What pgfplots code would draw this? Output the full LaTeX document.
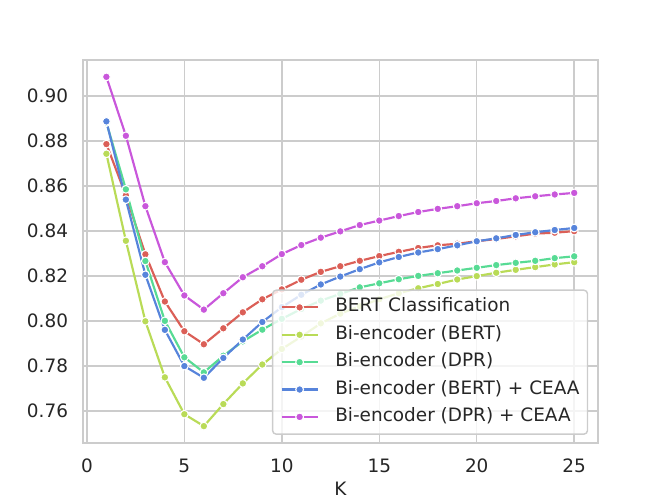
\documentclass[border=0pt]{standalone}
\usepackage{fontspec}
\setmainfont{DejaVu Sans}
\usepackage{pgfplots}
\pgfplotsset{compat=1.18}
\definecolor{c1}{RGB}{219,95,87}
\definecolor{c2}{RGB}{185,219,87}
\definecolor{c3}{RGB}{87,219,148}
\definecolor{c4}{RGB}{87,132,219}
\definecolor{c5}{RGB}{201,87,219}
\definecolor{txt}{RGB}{38,38,38}
\definecolor{gridc}{RGB}{204,204,204}
\begin{document}
\begin{tikzpicture}
\useasboundingbox (0,0) rectangle (460.8pt,345.6pt);
\begin{axis}[
  at={(57.6pt,38.016pt)}, anchor=south west,
  scale only axis, width=357.12pt, height=266.11pt,
  xmin=-0.2, xmax=26.2, ymin=0.7456, ymax=0.9161,
  xtick={0,5,10,15,20,25},
  ytick={0.76,0.78,0.80,0.82,0.84,0.86,0.88,0.90},
  grid=major, major grid style={gridc, line width=1pt},
  axis line style={gridc, line width=1.25pt},
  major tick length=0pt,
  /pgf/number format/assume math mode=true,
  tick label style={font=\fontsize{12.8}{15}\selectfont, text=txt, inner sep=0pt},
  xticklabel style={anchor=north, yshift=-10.5pt},
  yticklabel style={anchor=east, xshift=-10.2pt, /pgf/number format/fixed, /pgf/number format/fixed zerofill, /pgf/number format/precision=2},
  xlabel={K},
  xlabel style={font=\fontsize{12.8}{15}\selectfont, text=txt, at={(axis description cs:0.5,0)}, anchor=north, yshift=-26.9pt, inner sep=0pt},
  legend cell align=left,
  legend image code/.code={\draw[mark repeat=2,mark phase=2] plot coordinates {(0pt,0pt) (12.5pt,0pt) (25pt,0pt)};},
  legend image post style={fill opacity=1, draw opacity=1},
  legend style={at={(axis description cs:1,0)}, anchor=south east, xshift=-6.5pt, yshift=5.8pt,
    draw=gridc, line width=1pt, rounded corners=2.5pt, fill=white, fill opacity=0.8, text opacity=1,
    font=\fontsize{12.8}{15}\selectfont, text=txt, inner xsep=5.5pt, inner ysep=5.6pt,
    row sep=6.3pt, column sep=11.5pt,
    nodes={inner sep=0pt, text height=9.5pt, text depth=3.2pt}},
  every axis plot/.append style={line width=1.5pt, line join=round},
]
\addplot[c1, mark=*, mark size=2.7pt, mark options={solid, fill=c1, draw=white, line width=0.75pt}] coordinates {
(1,0.8786) (2,0.8558) (3,0.8296) (4,0.8086) (5,0.7954) (6,0.7896) (7,0.7967) (8,0.8038) (9,0.8096) (10,0.8140)
(11,0.8183) (12,0.8218) (13,0.8243) (14,0.8267) (15,0.8288) (16,0.8307) (17,0.8324) (18,0.8336) (19,0.8343) (20,0.8354)
(21,0.8364) (22,0.8376) (23,0.8388) (24,0.8392) (25,0.8399)};
\addlegendentry{BERT Classification}
\addplot[c2, mark=*, mark size=2.7pt, mark options={solid, fill=c2, draw=white, line width=0.75pt}] coordinates {
(1,0.8743) (2,0.8356) (3,0.7998) (4,0.7749) (5,0.7585) (6,0.7532) (7,0.7630) (8,0.7722) (9,0.7806) (10,0.7875)
(11,0.7930) (12,0.7989) (13,0.8032) (14,0.8065) (15,0.8096) (16,0.8123) (17,0.8145) (18,0.8164) (19,0.8184) (20,0.8199)
(21,0.8214) (22,0.8227) (23,0.8239) (24,0.8251) (25,0.8261)};
\addlegendentry{Bi-encoder (BERT)}
\addplot[c3, mark=*, mark size=2.7pt, mark options={solid, fill=c3, draw=white, line width=0.75pt}] coordinates {
(1,0.8882) (2,0.8585) (3,0.8266) (4,0.8000) (5,0.7838) (6,0.7771) (7,0.7845) (8,0.7909) (9,0.7961) (10,0.8009)
(11,0.8053) (12,0.8090) (13,0.8120) (14,0.8149) (15,0.8167) (16,0.8185) (17,0.8200) (18,0.8212) (19,0.8224) (20,0.8236)
(21,0.8248) (22,0.8258) (23,0.8267) (24,0.8279) (25,0.8287)};
\addlegendentry{Bi-encoder (DPR)}
\addplot[c4, mark=*, mark size=2.7pt, mark options={solid, fill=c4, draw=white, line width=0.75pt}] coordinates {
(1,0.8887) (2,0.8539) (3,0.8205) (4,0.7960) (5,0.7799) (6,0.7747) (7,0.7835) (8,0.7917) (9,0.7995) (10,0.8061)
(11,0.8116) (12,0.8162) (13,0.8197) (14,0.8230) (15,0.8260) (16,0.8284) (17,0.8304) (18,0.8319) (19,0.8336) (20,0.8354)
(21,0.8367) (22,0.8382) (23,0.8394) (24,0.8404) (25,0.8413)};
\addlegendentry{Bi-encoder (BERT) + CEAA}
\addplot[c5, mark=*, mark size=2.7pt, mark options={solid, fill=c5, draw=white, line width=0.75pt}] coordinates {
(1,0.9085) (2,0.8823) (3,0.8510) (4,0.8261) (5,0.8113) (6,0.8050) (7,0.8123) (8,0.8194) (9,0.8243) (10,0.8297)
(11,0.8337) (12,0.8370) (13,0.8398) (14,0.8426) (15,0.8446) (16,0.8466) (17,0.8484) (18,0.8498) (19,0.8510) (20,0.8523)
(21,0.8533) (22,0.8545) (23,0.8554) (24,0.8562) (25,0.8569)};
\addlegendentry{Bi-encoder (DPR) + CEAA}
\end{axis}
\end{tikzpicture}
\end{document}
